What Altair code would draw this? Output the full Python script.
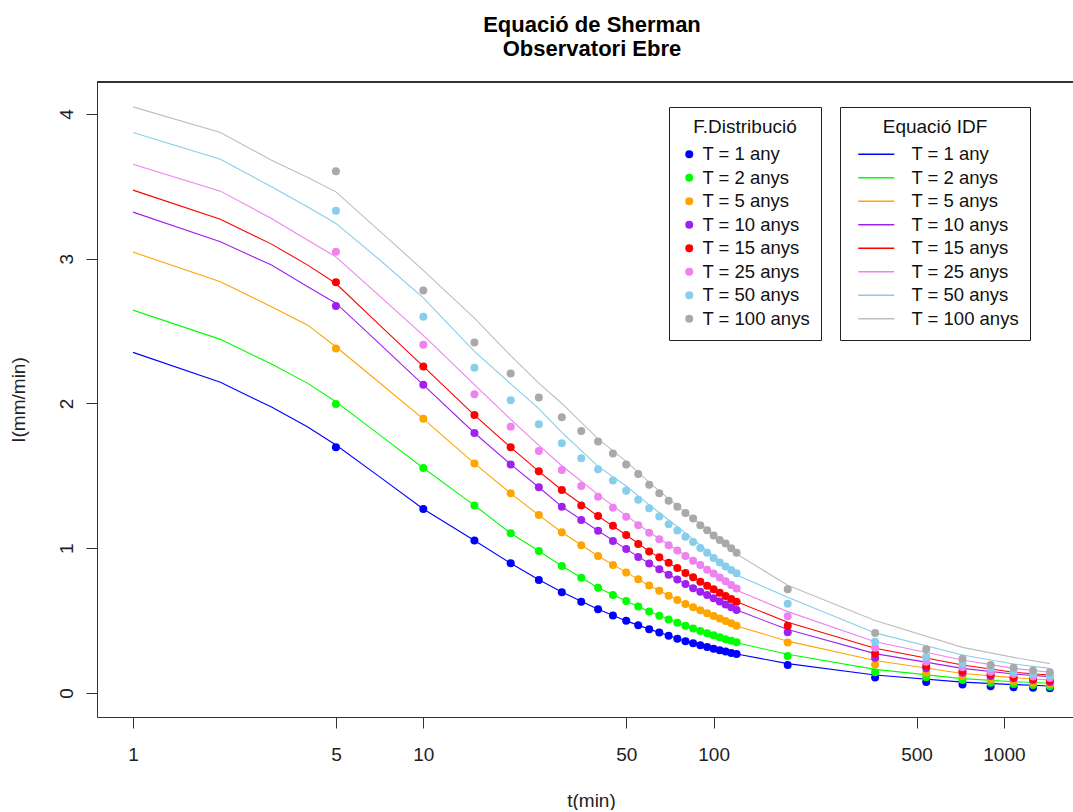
import altair as alt
import pandas as pd

labels = ["T = 1 any", "T = 2 anys", "T = 5 anys", "T = 10 anys",
          "T = 15 anys", "T = 25 anys", "T = 50 anys", "T = 100 anys"]
point_colors = ["#0000FF", "#00FF00", "#FFA500", "#A020F0",
                "#FF0000", "#EE82EE", "#87CEEB", "#A9A9A9"]
line_colors = ["#0000FF", "#00FF00", "#FFA500", "#A020F0",
               "#FF0000", "#EE82EE", "#87CEEB", "#BEBEBE"]

# durations (min) of the distribution-function points
t_points = [5, 10, 15, 20, 25, 30, 35, 40, 45, 50, 55, 60, 65, 70, 75, 80,
            85, 90, 95, 100, 105, 110, 115, 120,
            180, 360, 540, 720, 900, 1080, 1260, 1440]

p_T1 = [1.697, 1.271, 1.054, 0.896, 0.780, 0.695, 0.631, 0.578, 0.536, 0.499, 0.468, 0.441,
        0.417, 0.395, 0.375, 0.358, 0.343, 0.330, 0.318, 0.306, 0.296, 0.286, 0.277, 0.269,
        0.193, 0.107, 0.076, 0.058, 0.046, 0.040, 0.036, 0.032]
p_T2 = [1.996, 1.554, 1.296, 1.103, 0.981, 0.877, 0.796, 0.727, 0.677, 0.635, 0.597, 0.563,
        0.533, 0.508, 0.485, 0.464, 0.446, 0.428, 0.412, 0.398, 0.385, 0.372, 0.361, 0.350,
        0.256, 0.143, 0.108, 0.090, 0.071, 0.062, 0.055, 0.045]
p_T5 = [2.380, 1.894, 1.586, 1.379, 1.229, 1.110, 1.020, 0.946, 0.884, 0.833, 0.785, 0.743,
        0.706, 0.671, 0.642, 0.615, 0.592, 0.571, 0.550, 0.532, 0.515, 0.498, 0.481, 0.465,
        0.348, 0.196, 0.140, 0.117, 0.094, 0.083, 0.071, 0.062]
p_T10 = [2.673, 2.129, 1.796, 1.579, 1.421, 1.287, 1.195, 1.121, 1.050, 0.994, 0.939, 0.895,
         0.854, 0.816, 0.784, 0.753, 0.724, 0.699, 0.676, 0.654, 0.632, 0.612, 0.592, 0.573,
         0.420, 0.243, 0.170, 0.140, 0.117, 0.101, 0.090, 0.076]
p_T15 = [2.838, 2.256, 1.920, 1.697, 1.531, 1.402, 1.296, 1.222, 1.156, 1.091, 1.030, 0.978,
         0.938, 0.900, 0.864, 0.828, 0.799, 0.769, 0.741, 0.716, 0.693, 0.670, 0.650, 0.631,
         0.464, 0.272, 0.186, 0.152, 0.129, 0.108, 0.097, 0.087]
p_T25 = [3.048, 2.405, 2.063, 1.839, 1.671, 1.540, 1.430, 1.356, 1.280, 1.218, 1.158, 1.107,
         1.062, 1.020, 0.984, 0.946, 0.914, 0.884, 0.852, 0.825, 0.798, 0.772, 0.746, 0.722,
         0.530, 0.312, 0.216, 0.177, 0.147, 0.131, 0.113, 0.103]
p_T50 = [3.331, 2.599, 2.247, 2.023, 1.856, 1.726, 1.621, 1.546, 1.468, 1.397, 1.335, 1.277,
         1.220, 1.165, 1.122, 1.080, 1.043, 1.002, 0.968, 0.932, 0.902, 0.874, 0.850, 0.827,
         0.616, 0.354, 0.251, 0.205, 0.170, 0.147, 0.131, 0.120]
p_T100 = [3.605, 2.781, 2.422, 2.207, 2.041, 1.905, 1.810, 1.738, 1.655, 1.579, 1.512, 1.438,
          1.380, 1.328, 1.287, 1.243, 1.206, 1.158, 1.124, 1.088, 1.057, 1.032, 1.000, 0.969,
          0.716, 0.415, 0.302, 0.237, 0.193, 0.175, 0.155, 0.143]

# IDF (Sherman) curves
t_lines = [1, 2, 3, 4, 5, 7, 10, 15, 20, 25, 30, 40, 50, 60, 80, 100, 120,
           180, 360, 720, 1080, 1440]
l_T1 = [2.353, 2.146, 1.975, 1.838, 1.713, 1.50, 1.271, 1.054, 0.896, 0.782, 0.697, 0.578,
        0.498, 0.441, 0.358, 0.306, 0.269, 0.203, 0.124, 0.075, 0.058, 0.048]
l_T2 = [2.645, 2.443, 2.272, 2.139, 2.012, 1.79, 1.554, 1.296, 1.103, 0.981, 0.877, 0.727,
        0.635, 0.563, 0.464, 0.398, 0.347, 0.267, 0.163, 0.099, 0.078, 0.067]
l_T5 = [3.046, 2.841, 2.668, 2.541, 2.392, 2.15, 1.894, 1.586, 1.379, 1.229, 1.110, 0.946,
        0.833, 0.743, 0.615, 0.532, 0.463, 0.358, 0.224, 0.135, 0.106, 0.090]
l_T10 = [3.322, 3.117, 2.956, 2.806, 2.693, 2.42, 2.129, 1.796, 1.579, 1.421, 1.287, 1.121,
         0.994, 0.895, 0.753, 0.654, 0.573, 0.438, 0.272, 0.170, 0.131, 0.113]
l_T15 = [3.474, 3.273, 3.101, 2.956, 2.829, 2.55, 2.256, 1.920, 1.697, 1.531, 1.402, 1.222,
         1.091, 0.978, 0.828, 0.716, 0.631, 0.488, 0.309, 0.193, 0.143, 0.124]
l_T25 = [3.653, 3.467, 3.278, 3.128, 3.013, 2.75, 2.47, 2.13, 1.89, 1.71, 1.57, 1.37,
         1.225, 1.11, 0.95, 0.825, 0.71, 0.562, 0.354, 0.228, 0.170, 0.143]
l_T50 = [3.872, 3.688, 3.497, 3.358, 3.244, 3.00, 2.73, 2.36, 2.135, 1.965, 1.80, 1.565,
         1.43, 1.30, 1.105, 0.945, 0.815, 0.661, 0.415, 0.262, 0.200, 0.170]
l_T100 = [4.049, 3.872, 3.681, 3.561, 3.462, 3.20, 2.92, 2.59, 2.33, 2.14, 2.00, 1.755,
          1.60, 1.455, 1.245, 1.095, 0.96, 0.745, 0.50, 0.315, 0.246, 0.203]

x_ticks = [1, 5, 10, 50, 100, 500, 1000]
y_ticks = [0, 1, 2, 3, 4]

point_series = [p_T1, p_T2, p_T5, p_T10, p_T15, p_T25, p_T50, p_T100]
line_series = [l_T1, l_T2, l_T5, l_T10, l_T15, l_T25, l_T50, l_T100]

pts = pd.DataFrame([
    {"t": t, "I": v, "Tdist": lab}
    for lab, vals in zip(labels, point_series)
    for t, v in zip(t_points, vals)
])
lns = pd.DataFrame([
    {"t": t, "I": v, "Tidf": lab, "o": i}
    for lab, vals in zip(labels, line_series)
    for i, (t, v) in enumerate(zip(t_lines, vals))
])

FONT = "Liberation Sans"
W, H = 976, 635
x_scale = alt.Scale(type="log", domain=[0.7515, 1730], nice=False, zero=False)
y_scale = alt.Scale(domain=[-0.166, 4.221], nice=False, zero=False)

x_axis = alt.Axis(values=x_ticks, format="d", grid=False, tickSize=11,
                  labelPadding=17, labelFontSize=19, labelFont=FONT,
                  title="t(min)", titleFontSize=19, titleFont=FONT,
                  titleFontWeight="normal", titleX=494, titleY=83,
                  titleBaseline="middle", titleAlign="center",
                  domainColor="#333333", tickColor="#333333",
                  labelColor="#222222", titleColor="#222222")
y_axis = alt.Axis(values=y_ticks, format="d", grid=False, tickSize=11, labelAngle=270,
                  labelAlign="center", labelBaseline="alphabetic",
                  labelPadding=14, labelFontSize=19, labelFont=FONT,
                  title="I(mm/min)", titleFontSize=19, titleFont=FONT,
                  titleFontWeight="normal", titleAngle=270, titleX=-79,
                  titleY=317.5, titleAlign="center", titleBaseline="middle",
                  domainColor="#333333", tickColor="#333333",
                  labelColor="#222222", titleColor="#222222")

lines = alt.Chart(lns).mark_line(strokeWidth=1.1, clip=True).encode(
    x=alt.X("t:Q", scale=x_scale, axis=x_axis),
    y=alt.Y("I:Q", scale=y_scale, axis=y_axis),
    stroke=alt.Stroke("Tidf:N", scale=alt.Scale(domain=labels, range=line_colors),
                      legend=alt.Legend(title="Equació IDF", orient="none",
                                        legendX=743, legendY=25,
                                        symbolType="M-0.25,0L4.25,0",
                                        symbolSize=256, labelOffset=42,
                                        symbolStrokeWidth=1.5)),
    order="o:Q",
)

points = alt.Chart(pts).mark_circle(size=64, opacity=1, clip=True).encode(
    x=alt.X("t:Q", scale=x_scale),
    y=alt.Y("I:Q", scale=y_scale),
    color=alt.Color("Tdist:N", scale=alt.Scale(domain=labels, range=point_colors),
                    legend=alt.Legend(title="F.Distribució", orient="none",
                                      legendX=572, legendY=25, labelOffset=4,
                                      symbolType="circle", symbolSize=64)),
)

top_border = alt.Chart(pts).mark_rule(color="#333333", strokeWidth=1).encode(
    x=alt.value(0), x2=alt.value(W), y=alt.value(0)
)

chart = alt.layer(lines, points, top_border).resolve_scale(
    color="independent", stroke="independent"
).properties(
    width=W, height=H,
    autosize=alt.AutoSizeParams(type="none"),
    padding={"left": 97, "top": 82, "right": 0, "bottom": 93},
    title=alt.TitleParams(["Equació de Sherman", "Observatori Ebre"],
                          font=FONT, fontSize=22, fontWeight="bold",
                          anchor="middle", dx=7, offset=21, lineHeight=24,
                          color="#000000"),
).configure_view(stroke=None).configure_legend(
    strokeColor="#222222", fillColor="white", padding=11,
    titleFont=FONT, titleFontSize=19, titleFontWeight="normal",
    titleAnchor="middle", titleColor="#111111", titlePadding=8,
    labelFont=FONT, labelFontSize=18.5, labelColor="#111111",
    rowPadding=4.5, labelLimit=300,
)

chart.save("out.html", embed_options={"renderer": "svg", "actions": False})
